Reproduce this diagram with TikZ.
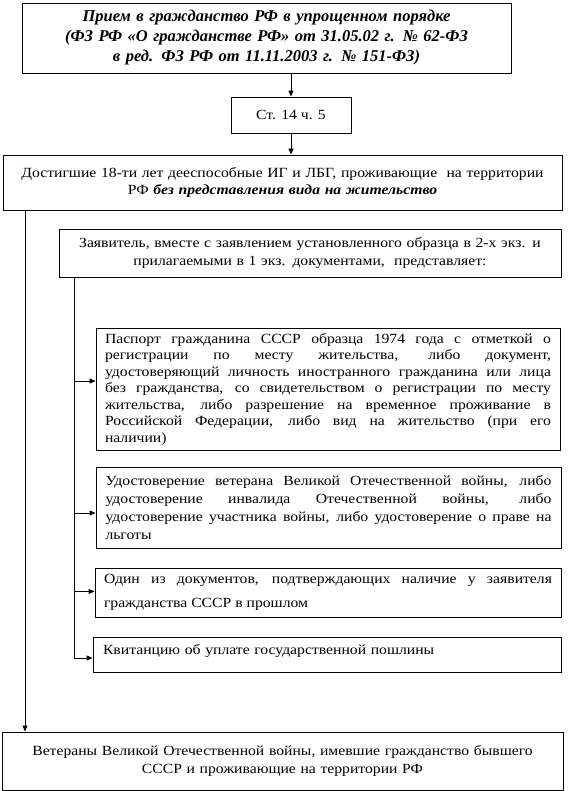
\documentclass[tikz,border=0pt]{standalone}
\usepackage{fontspec}
\setmainfont{Liberation Serif}
\newfontfamily\bodyfont[FakeStretch=1.12]{Liberation Serif}
\usetikzlibrary{arrows.meta,calc}
\begin{document}
\begin{tikzpicture}[x=1pt,y=-1pt,
  box/.style={draw,line width=0.9pt,inner sep=0pt,font=\bodyfont\fontsize{14}{17.5}\selectfont},
  cbox/.style={box,align=center},
  jbox/.style={box,align=justify},
  arr/.style={line width=0.9pt,-{Triangle[length=6pt,width=5pt]}},
  ln/.style={line width=0.9pt}]
\fill[white] (0,0) rectangle (568,791);
\useasboundingbox (0,0) rectangle (568,791);
\tolerance=10000 \hbadness=10000 \hfuzz=20pt

\node[cbox,minimum width=489pt,minimum height=70pt,text width=470pt,
  font=\fontsize{16.5}{20}\selectfont\bfseries\itshape] (title) at (266.5,38)
  {Прием в гражданство РФ в упрощенном порядке\\(ФЗ РФ «О гражданстве РФ» от 31.05.02 г. № 62-ФЗ\\в ред. ФЗ РФ от 11.11.2003 г. № 151-ФЗ)};

\node[cbox,minimum width=120pt,minimum height=36pt] (st) at (291,115) {Ст. 14 ч. 5};

\node[cbox,minimum width=559pt,minimum height=55pt,text width=550pt] (cond) at (282.5,182.5)
  {Достигшие 18-ти лет дееспособные ИГ и ЛБГ, проживающие \ на территории\\ РФ \textbf{\textit{без представления вида на жительство}}\\[3pt]};

\node[cbox,minimum width=502pt,minimum height=48pt,text width=495pt] (appl) at (310,253)
  {Заявитель, вместе с заявлением установленного образца в 2-х экз. и\\ прилагаемыми в 1 экз. документами, \ представляет:};

\node[jbox,minimum width=464pt,minimum height=122pt,text width=446pt,
  font=\bodyfont\fontsize{14}{16.5}\selectfont] (pass) at (328,389)
  {Паспорт гражданина СССР образца 1974 года с отметкой о\linebreak
   регистрации по месту жительства, либо документ,\linebreak
   удостоверяющий личность иностранного гражданина или лица\linebreak
   без гражданства, со свидетельством о регистрации по месту\linebreak
   жительства, либо разрешение на временное проживание в\linebreak
   Российской Федерации, либо вид на жительство (при его\linebreak
   наличии)};

\node[jbox,minimum width=465pt,minimum height=81pt,text width=446pt,
  font=\bodyfont\fontsize{14}{18}\selectfont] (vet) at (328.5,507.5)
  {Удостоверение ветерана Великой Отечественной войны, либо\linebreak
   удостоверение инвалида Отечественной войны, либо\linebreak
   удостоверение участника войны, либо удостоверение о праве на\linebreak
   льготы};

\node[jbox,minimum width=466pt,minimum height=49pt,text width=448pt,
  font=\bodyfont\fontsize{14}{24}\selectfont] (one) at (328,592.5)
  {Один из документов, подтверждающих наличие у заявителя\linebreak
   гражданства СССР в прошлом};

\node[box,align=left,minimum width=468pt,minimum height=35pt,text width=448pt] (kvit) at (327,654.5)
  {Квитанцию об уплате государственной пошлины\\[-8pt]\mbox{}};

\node[cbox,minimum width=561pt,minimum height=58pt,text width=550pt] (last) at (282.5,761)
  {Ветераны Великой Отечественной войны, имевшие гражданство бывшего\\ СССР и проживающие на территории РФ\\[5pt]};

% connectors
\draw[arr] (st.north |- title.south) -- (st.north);
\draw[arr] (st.south) -- (st.south |- cond.north);

\coordinate (v1) at (25,0);
\draw[arr] (v1 |- cond.south) -- (v1 |- last.north);

\coordinate (v2) at (74,0);
\coordinate (a5) at ([yshift=8pt]pass.west);
\coordinate (a6) at ([yshift=-5.5pt]vet.west);
\coordinate (a7) at ([yshift=1pt]one.west);
\coordinate (a8) at ([yshift=-3.5pt]kvit.west);
\draw[ln] (v2 |- appl.south) -- (v2 |- a8);
\draw[arr] (v2 |- a5) -- (a5);
\draw[arr] (v2 |- a6) -- (a6);
\draw[arr] (v2 |- a7) -- (a7);
\draw[arr] (v2 |- a8) -- (a8);
\end{tikzpicture}
\end{document}
